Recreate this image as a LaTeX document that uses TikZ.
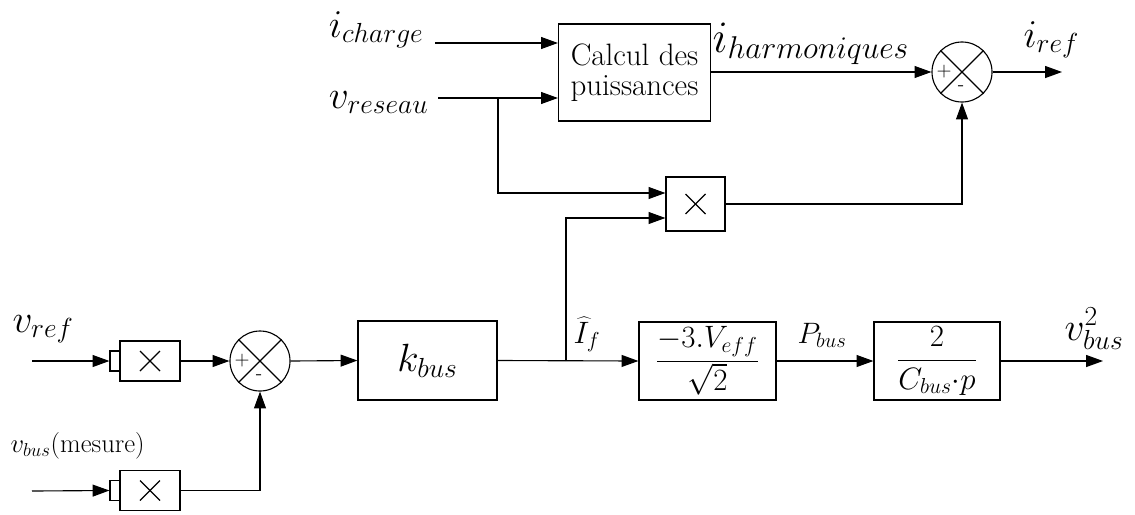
\RequirePackage{fix-cm}
\documentclass[tikz,border=0pt]{standalone}
\usetikzlibrary{arrows.meta}
\begin{document}
\begin{tikzpicture}
[x=0.025cm, y=-0.025cm, line width=0.8pt, >={Triangle[length=12pt,width=8.5pt]}, font=\fontsize{28}{34}\selectfont]
\tikzstyle{block}=[draw, rectangle, inner sep=0pt, align=center]
\tikzstyle{mult}=[block, minimum width=1.5cm, minimum height=1cm]
\tikzstyle{port}=[block, minimum width=0.25cm, minimum height=0.5cm]
\tikzstyle{sum}=[draw, circle, inner sep=0pt, minimum size=1.5cm]
\tikzstyle{sign}=[inner sep=0pt, font=\fontsize{14}{16}\selectfont]
\tikzstyle{lbl}=[inner sep=0pt]
\tikzstyle{boxtext}=[font=\fontsize{22}{21}\selectfont]
\useasboundingbox (0,0) rectangle (1135,514);

% partie puissances
\node[lbl]	(ich)	at (424,37)	[anchor=base east]	{$i_{charge}$};
\node[lbl]	(vres)	at (429,108)	[anchor=base east]	{$v_{reseau}$};
\coordinate	(ichin)	at (435,43);
\coordinate	(vresin)	at (438,98);
\coordinate	(br1)	at (498,98);
\node[block, boxtext, minimum width=3.8cm, minimum height=2.425cm]	(calc)	at (634.5,72.5)	{Calcul des\\puissances};
\node[mult, minimum width=1.475cm, minimum height=1.35cm]	(mtop)	at (695.5,204)	{};
\node[sum]	(sumtop)	at (962,72)	{};
\node[lbl, font=\fontsize{32}{38}\selectfont]	(iharm)	at (712,52)	[anchor=base west]	{$i_{harmoniques}$};
\node[lbl]	(iref)	at (1023,47)	[anchor=base west]	{$i_{ref}$};
\coordinate	(irefout)	at (1062,72);

% boucle du bus continu
\node[lbl]	(vref)	at (12,332)	[anchor=base west]	{$v_{ref}$};
\node[lbl]	(vbus)	at (10,452)	[anchor=base west, font=\fontsize{19}{22}\selectfont]	{$v_{bus}$(mesure)};
\coordinate	(vrefin)	at (32,361);
\coordinate	(vbusin)	at (32,491);
\node[port]	(p1)	at (115,361)	{};
\node[mult]	(m1)	at (150,361)	{};
\node[port]	(p2)	at (115,490.5)	{};
\node[mult]	(m2)	at (150,490.5)	{};
\node[sum]	(sumbot)	at (260,361)	{};
\node[block, minimum width=3.475cm, minimum height=1.975cm]	(kbus)	at (427.5,360.5)	{$k_{bus}$};
\coordinate	(br2)	at (566,361);
\node[lbl]	(If)	at (573,343)	[anchor=base west, font=\fontsize{22}{26}\selectfont]	{$\widehat{I}_f$};
\node[block, boxtext, minimum width=3.425cm, minimum height=1.95cm]	(vdeff)	at (707.5,361)	{$\displaystyle\frac{-3.V_{eff}}{\sqrt{2}}$};
\node[lbl]	(pbus)	at (797,343)	[anchor=base west, font=\fontsize{21}{25}\selectfont]	{$P_{bus}$};
\node[block, boxtext, minimum width=3.15cm, minimum height=1.95cm]	(cbus)	at (937,361)	{$\displaystyle\frac{2}{C_{bus}{\cdot}p}$};
\node[lbl]	(vb2)	at (1064,340)	[anchor=base west]	{$v_{bus}^2$};
\coordinate	(vbout)	at (1103,361);

\foreach \m in {m1,m2,mtop}
{
\draw ([shift={(-10,-10)}]\m.center) -- ([shift={(10,10)}]\m.center);
\draw ([shift={(-10,10)}]\m.center) -- ([shift={(10,-10)}]\m.center);
}
\foreach \s in {sumtop,sumbot}
{
\draw (\s.45) -- (\s.225);
\draw (\s.135) -- (\s.315);
\node[sign]	at ([shift={(-18,0)}]\s.center)	{+};
\node[sign]	at ([shift={(-1,16)}]\s.center)	{-};
}

\draw [->] (ichin) -- (ichin -| calc.west);
\draw [->] (vresin) -- (vresin -| calc.west);
\draw [->] (br1) |- ([shift={(0,-11)}]mtop.west);
\draw [->] (br2) |- ([shift={(0,14)}]mtop.west);
\draw [->] (calc.east |- sumtop.west) -- (sumtop.west);
\draw [->] (mtop.east) -| (sumtop.south);
\draw [->] (sumtop.east) -- (irefout);

\draw [->] (vrefin) -- (p1.west);
\draw [->] (vbusin) -- (p2.west);
\draw [->] (m1.east) -- (sumbot.west);
\draw [->] (m2.east) -| (sumbot.south);
\draw [->] (sumbot.east) -- (kbus.west);
\draw [->] (kbus.east) -- (vdeff.west);
\draw [->] (vdeff.east) -- (cbus.west);
\draw [->] (cbus.east) -- (vbout);
\end{tikzpicture}
\end{document}
